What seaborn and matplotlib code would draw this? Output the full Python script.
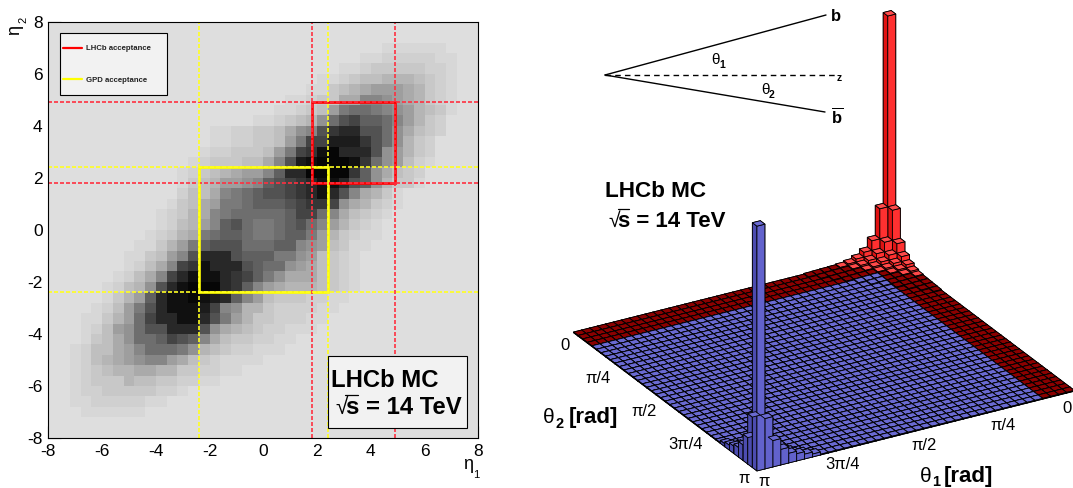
import numpy as np
import matplotlib
matplotlib.use('Agg')
import matplotlib.pyplot as plt
import seaborn as sns
from matplotlib.colors import ListedColormap
from matplotlib.lines import Line2D
from matplotlib.patches import Rectangle
from matplotlib.transforms import Affine2D

W, H = 1073, 488

# eta1 vs eta2 map: first filled bin and gray level (base 20) of each row, bottom row first
row_start = [0, 0, 3, 2, 2, 2, 2, 2, 2, 3, 3, 3, 4, 5, 5, 6, 7, 7, 8, 9,
             10, 10, 11, 12, 12, 12, 13, 14, 15, 15, 19, 21, 22, 24, 25, 27, 29, 31, 0, 0]
row_levels = [
    "", "",
    "111111",
    "112222211",
    "12233333221",
    "12333544332211",
    "1234556655332211",
    "124567899764321111",
    "1244679bbba854322111",
    "13468bbcedc964332211",
    "12478bddgggd8654322111",
    "11357beggiigda75332" + "2211",
    "1247adgiiihe98553222211",
    "1357cgiijihgc9743332211",
    "12458dgijjjgfc9765554321",
    "12469egiiigfeca86664321",
    "12469efigggdcbb8764321",
    "113479dgggdcccaa874321",
    "11357acdddbbbcc9874311",
    "12356abccbaabcca753211",
    "124579cdbaabcdb9753" + "21",
    "123569abbbbbceeb964321",
    "13467aabcccdeffe865321",
    "24469abcddefgigd96531",
    "13457789cdefgiigdc85331",
    "123456779cggjjjjfc86432",
    "123334469dhijjjifb87421",
    "12233347aefijgggd87532",
    "11223347aeehhhfdb8532",
    "1122334689dfggddb86432",
    "1123458bdeccb97532",
    "112347abba9875431",
    "1123366998765321",
    "11345677765321",
    "1123445554321",
    "11233333221",
    "112222211",
    "111111",
    "", "",
]
gray_levels = ['#DEDEDE', '#D7D7D7', '#D0D0D0', '#C8C8C8', '#BFBFBF', '#B5B5B5', '#AAAAAA',
               '#9E9E9E', '#929292', '#868686', '#7A7A7A', '#6E6E6E', '#606060', '#525252',
               '#444444', '#363636', '#282828', '#1C1C1C', '#101010', '#060606']
eta_ticks = [-8, -6, -4, -2, 0, 2, 4, 6, 8]
lhcb_range = [1.8, 4.9]
gpd_range = [-2.4, 2.4]

# theta1 vs theta2 lego: bar height by distance from the (0,0) and (pi,pi) corners
red_tiers = [1.01, 0.215, 0.09, 0.05, 0.03, 0.018, 0.012]
red_ridge = [0.009, 0.008, 0.007, 0.006]
blue_tiers = [1.02, 0.21, 0.11, 0.065, 0.04, 0.03, 0.02, 0.012]
floor_height = 0.003
band_bins = 4
theta1_ticks = ['0', 'π/4', 'π/2', '3π/4', 'π']
theta2_ticks = ['0', 'π/4', 'π/2', '3π/4', 'π']

sns.set_theme(style='white')
plt.rcParams['font.family'] = ['Liberation Sans', 'DejaVu Sans']
plt.rcParams['mathtext.fontset'] = 'custom'
plt.rcParams['mathtext.rm'] = 'Liberation Sans'
plt.rcParams['mathtext.bf'] = 'Liberation Sans:bold'

fig = plt.figure(figsize=(W / 100, H / 100), dpi=100, facecolor='white')
px = Affine2D().scale(1 / W, -1 / H).translate(0, 1) + fig.transFigure


def rect_px(left, top, right, bottom):
    return [left / W, 1 - bottom / H, (right - left) / W, (bottom - top) / H]


def label(x, y, s, **kw):
    kw.setdefault('ha', 'left')
    kw.setdefault('va', 'baseline')
    kw.setdefault('color', 'black')
    fig.text(x, y, s, transform=px, **kw)


def root_s(x, y, size, rise):
    # square root sign with the bar over the s, then the rest of the label
    label(x, y, '√', fontsize=size * 0.95)
    label(x + size * 0.62, y, 's = 14 TeV', fontsize=size, fontweight='bold')
    fig.add_artist(Line2D([x + size * 0.6, x + size * 1.32], [y - rise, y - rise],
                          transform=px, color='black', lw=0.9))


# ---- left panel ----
levels = np.zeros((40, 40))
for j, (start, row) in enumerate(zip(row_start, row_levels)):
    for k, c in enumerate(row):
        levels[j, start + k] = int(c, 20)

ax = fig.add_axes(rect_px(48.3, 21.7, 478.3, 438))
sns.heatmap(levels, ax=ax, cmap=ListedColormap(gray_levels), vmin=-0.5, vmax=19.5,
            cbar=False, square=False, xticklabels=False, yticklabels=False)
ax.invert_yaxis()


def to_bin(v):
    return (np.asarray(v, dtype=float) + 8) / 0.4


major = to_bin(eta_ticks)
minor = to_bin(np.arange(-8, 8.5, 0.5))
ax.set_xticks(major, [str(t) for t in eta_ticks], fontsize=12.5)
ax.set_yticks(major, [str(t) for t in eta_ticks], fontsize=12.5)
ax.set_xticks(minor, minor=True)
ax.set_yticks(minor, minor=True)
ax.tick_params(which='major', direction='in', length=9, width=0.8, color='black',
               labelcolor='black', left=True, bottom=True, top=False, right=False, pad=4,
               labelrotation=0)
ax.tick_params(which='minor', direction='in', length=4.5, width=0.8, color='black',
               left=True, bottom=True, top=False, right=False)
for s in ax.spines.values():
    s.set_visible(True)
    s.set_color('black')
    s.set_linewidth(0.8)

dash = (0, (2.4, 1.2))
for v in lhcb_range:
    ax.axvline(to_bin(v), color='#FF3040', lw=1.2, ls=dash)
    ax.axhline(to_bin(v), color='#FF3040', lw=1.2, ls=dash)
for v in gpd_range:
    ax.axvline(to_bin(v), color='#FFFF20', lw=1.2, ls=dash)
    ax.axhline(to_bin(v), color='#FFFF20', lw=1.2, ls=dash)
for rng, col in [(gpd_range, '#FFFF00'), (lhcb_range, '#FF0000')]:
    lo, hi = to_bin(rng[0]), to_bin(rng[1])
    ax.add_patch(Rectangle((lo, lo), hi - lo, hi - lo, fill=False, ec=col, lw=1.9))

label(15, 30, 'η', fontsize=13, rotation=90, ha='center', va='center')
label(23, 20, '2', fontsize=8, rotation=90, ha='center', va='center')
label(463, 469, 'η', fontsize=13)
label(473, 478, '1', fontsize=8)

# legend box
fig.add_artist(Rectangle((59.5, 32.5), 107, 62.5, transform=px, fc='#F2F2F2', ec='black', lw=0.8))
fig.add_artist(Line2D([63, 82], [48, 48], transform=px, color='#FF0000', lw=1.6))
fig.add_artist(Line2D([63, 82], [79, 79], transform=px, color='#FFFF00', lw=1.6))
label(86, 50, 'LHCb acceptance', fontsize=5.6, fontweight='bold', color='#222222')
label(86, 82, 'GPD acceptance', fontsize=5.6, fontweight='bold', color='#222222')

# MC box
fig.add_artist(Rectangle((328, 356), 139, 72, transform=px, fc='#F2F2F2', ec='black', lw=0.8))
label(331, 387, 'LHCb MC', fontsize=17.2, fontweight='bold')
root_s(335, 414, 17.2, 19)

# ---- right panel ----
n_bins = 40
heights = np.full((n_bins, n_bins), floor_height)
for tier, h in enumerate(red_tiers + red_ridge):
    for i in range(tier + 1):
        heights[i, tier - i] = h
for tier, h in enumerate(blue_tiers):
    for i in range(tier + 1):
        heights[n_bins - 1 - i, n_bins - 1 - (tier - i)] = h

bin_w = np.pi / n_bins
ii, jj = np.meshgrid(np.arange(n_bins), np.arange(n_bins), indexing='ij')
ii, jj = ii.ravel(), jj.ravel()
dz = heights[ii, jj]

face_colors = []
for i, j in zip(ii, jj):
    if i + j < len(red_tiers):
        top, left, right = '#FF4A4A', '#E01212', '#FF3030'
    elif i < band_bins or j < band_bins:
        top, left, right = '#8B0000', '#600000', '#700000'
    else:
        top, left, right = '#6A6AD2', '#4C4CB0', '#6262CC'
    # bar3d face order: -z, +z, -y, +y, -x, +x
    face_colors += [top, top, right, right, left, left]

ax3 = fig.add_axes(rect_px(533.4, -33.4, 1099.4, 532.6), projection='3d', proj_type='ortho')
ax3.set_box_aspect((1, 1, 0.727))
ax3.view_init(elev=25.8, azim=60)
ax3.set_xlim(0, np.pi)
ax3.set_ylim(0, np.pi)
ax3.set_zlim(0, 1)
ax3.set_axis_off()
ax3.patch.set_alpha(0)
ax3.bar3d(ii * bin_w, jj * bin_w, np.zeros_like(dz), bin_w, bin_w, dz, color=face_colors,
          shade=False, zsort='max', edgecolor='black', linewidth=0.6)

for pos, s in zip([(565, 350), (598, 383), (644, 416), (686, 449), (744, 483)], theta2_ticks):
    label(pos[0], pos[1], s, fontsize=12, ha='center')
for pos, s in zip([(1067, 413), (1003, 430), (924, 450), (843, 469), (764, 486)], theta1_ticks):
    label(pos[0], pos[1], s, fontsize=12, ha='center')

label(543, 423, 'θ', fontsize=15)
label(555, 428, '2', fontsize=10.5, fontweight='bold')
label(569, 423, '[rad]', fontsize=16, fontweight='bold')
label(920, 482, 'θ', fontsize=15)
label(932, 486, '1', fontsize=10.5, fontweight='bold')
label(944, 482, '[rad]', fontsize=16, fontweight='bold')

# angle sketch
fig.add_artist(Line2D([605, 826], [75, 15], transform=px, color='black', lw=1.0))
fig.add_artist(Line2D([605, 825], [75, 112], transform=px, color='black', lw=1.0))
fig.add_artist(Line2D([605, 835], [75, 75], transform=px, color='black', lw=1.0, ls=(0, (4, 3))))
label(831, 21, 'b', fontsize=12, fontweight='bold')
label(831, 123, r'$\overline{\mathbf{b}}$', fontsize=12, fontweight='bold')
label(837, 81, 'z', fontsize=7.5, fontweight='bold')
label(711, 64, 'θ', fontsize=11)
label(719, 68, '1', fontsize=7.5, fontweight='bold')
label(761, 94, 'θ', fontsize=11)
label(769, 98, '2', fontsize=7.5, fontweight='bold')

label(605, 197, 'LHCb MC', fontsize=16.2, fontweight='bold')
root_s(608, 227, 16, 18)

fig.savefig('out.png', dpi=100)
